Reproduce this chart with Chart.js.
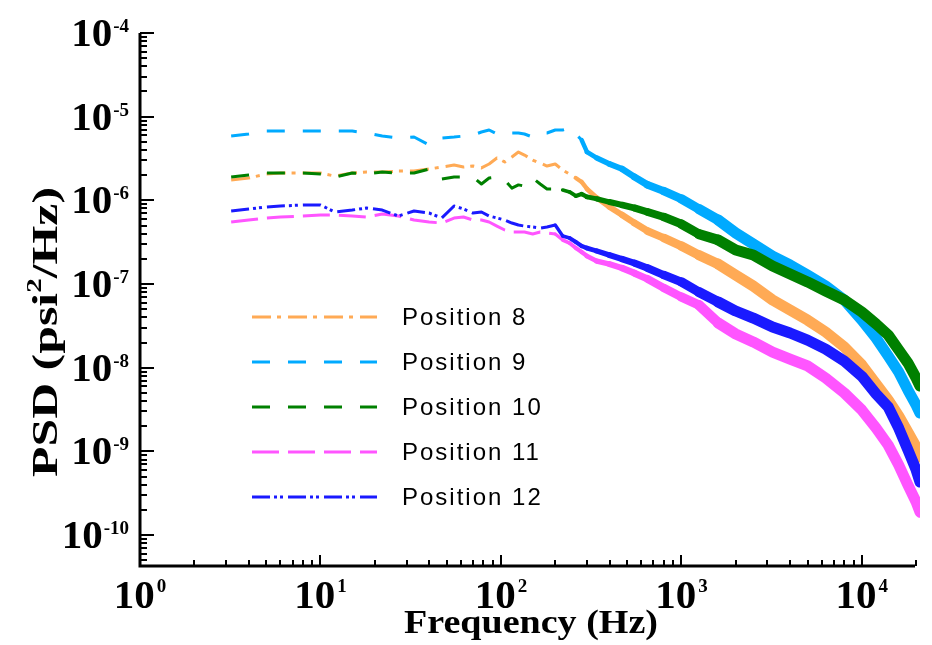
<!DOCTYPE html>
<html>
<head>
<meta charset="utf-8">
<title>PSD</title>
<script src="https://cdn.jsdelivr.net/npm/chart.js@4.4.1/dist/chart.umd.min.js"></script>
<style>
  html, body { margin: 0; padding: 0; background: #fff; }
  #wrap { width: 932px; height: 645px; position: relative; }
</style>
</head>
<body>
<div id="wrap"><canvas id="psdChart"></canvas></div>
<script>
const freq = [3.2, 4, 5, 6, 8, 10, 12, 15, 18, 22, 27, 33, 40, 47, 55, 62, 70, 78, 86, 95,
  105, 115, 125, 135, 150, 165, 180, 200, 220, 240, 260, 280, 300, 340, 400, 470, 550, 650, 800, 1000,
  1250, 1600, 2000, 2500, 3200, 4000, 5000, 6300, 8000, 10000, 12000, 14000, 16000, 18000, 20000, 21000];

// PSD (psi^2/Hz)
const pos8 = [1.75e-6, 1.85e-6, 2.06e-6, 2.12e-6, 2.12e-6, 2.12e-6, 1.95e-6, 2.12e-6, 2.18e-6, 2.18e-6,
  2.24e-6, 2.24e-6, 2.37e-6, 2.50e-6, 2.64e-6, 2.50e-6, 2.57e-6, 2.44e-6, 2.72e-6, 3.21e-6,
  2.87e-6, 3.30e-6, 3.78e-6, 3.48e-6, 3.03e-6, 2.79e-6, 2.57e-6, 2.72e-6, 2.30e-6, 2.06e-6,
  1.85e-6, 1.66e-6, 1.37e-6, 1.07e-6, 8.33e-7, 6.68e-7, 5.36e-7, 4.30e-7, 3.55e-7, 2.85e-7,
  2.22e-7, 1.73e-7, 1.28e-7, 9.47e-8, 6.44e-8, 4.89e-8, 3.71e-8, 2.67e-8, 1.77e-8, 1.08e-8,
  6.38e-9, 4.11e-9, 2.65e-9, 1.70e-9, 1.13e-9, 8.56e-10];
const pos9 = [5.87e-6, 6.21e-6, 6.74e-6, 6.74e-6, 6.74e-6, 6.74e-6, 6.74e-6, 6.74e-6, 6.38e-6, 5.87e-6,
  5.56e-6, 5.71e-6, 4.59e-6, 5.56e-6, 5.71e-6, 5.87e-6, 6.04e-6, 6.56e-6, 6.93e-6, 6.21e-6,
  6.56e-6, 6.38e-6, 6.38e-6, 6.21e-6, 5.71e-6, 6.38e-6, 6.38e-6, 6.93e-6, 6.93e-6, 7.32e-6,
  6.21e-6, 5.26e-6, 3.78e-6, 3.21e-6, 2.72e-6, 2.37e-6, 1.90e-6, 1.53e-6, 1.29e-6, 1.04e-6,
  7.88e-7, 5.82e-7, 4.07e-7, 3.01e-7, 2.16e-7, 1.69e-7, 1.28e-7, 9.47e-8, 6.44e-8, 3.71e-8,
  2.26e-8, 1.38e-8, 8.88e-9, 5.41e-9, 3.58e-9, 2.87e-9];
const pos10 = [1.90e-6, 2.01e-6, 2.12e-6, 2.12e-6, 2.12e-6, 2.06e-6, 1.90e-6, 2.12e-6, 2.06e-6, 2.18e-6,
  2.12e-6, 2.12e-6, 2.37e-6, 1.80e-6, 1.90e-6, 1.90e-6, 1.90e-6, 1.57e-6, 1.85e-6, 1.90e-6,
  1.75e-6, 1.40e-6, 1.53e-6, 1.48e-6, 1.85e-6, 1.57e-6, 1.37e-6, 1.37e-6, 1.33e-6, 1.26e-6,
  1.13e-6, 1.19e-6, 1.10e-6, 1.04e-6, 9.55e-7, 8.80e-7, 8.10e-7, 7.26e-7, 6.32e-7, 5.21e-7,
  3.96e-7, 3.36e-7, 2.55e-7, 2.22e-7, 1.64e-7, 1.32e-7, 1.06e-7, 8.25e-8, 6.44e-8, 4.63e-8,
  3.33e-8, 2.46e-8, 1.63e-8, 1.14e-8, 7.53e-9, 6.04e-9];
const pos11 = [5.51e-7, 5.82e-7, 6.15e-7, 6.32e-7, 6.50e-7, 6.68e-7, 6.68e-7, 6.50e-7, 6.32e-7, 6.87e-7,
  6.50e-7, 5.82e-7, 5.51e-7, 5.36e-7, 6.15e-7, 6.32e-7, 5.82e-7, 5.82e-7, 5.51e-7, 4.93e-7,
  4.42e-7, 4.18e-7, 4.18e-7, 4.18e-7, 3.96e-7, 4.18e-7, 4.07e-7, 3.96e-7, 3.36e-7, 3.09e-7,
  2.69e-7, 2.41e-7, 2.16e-7, 1.88e-7, 1.73e-7, 1.55e-7, 1.35e-7, 1.15e-7, 8.96e-8, 6.99e-8,
  5.61e-8, 3.42e-8, 2.53e-8, 2.03e-8, 1.54e-8, 1.27e-8, 1.05e-8, 7.53e-9, 4.98e-9, 3.12e-9,
  1.90e-9, 1.19e-9, 6.87e-10, 3.96e-10, 2.48e-10, 1.88e-10];
const pos12 = [7.46e-7, 7.88e-7, 8.33e-7, 8.56e-7, 8.80e-7, 8.80e-7, 7.26e-7, 7.66e-7, 8.10e-7, 7.66e-7,
  6.50e-7, 7.46e-7, 7.06e-7, 6.15e-7, 8.56e-7, 7.88e-7, 7.06e-7, 7.26e-7, 6.50e-7, 6.15e-7,
  5.82e-7, 5.36e-7, 5.07e-7, 4.93e-7, 4.80e-7, 4.67e-7, 4.80e-7, 5.07e-7, 3.75e-7, 3.55e-7,
  3.18e-7, 2.85e-7, 2.69e-7, 2.48e-7, 2.22e-7, 1.99e-7, 1.78e-7, 1.55e-7, 1.28e-7, 1.06e-7,
  8.03e-8, 6.10e-8, 4.76e-8, 3.92e-8, 3.06e-8, 2.60e-8, 2.14e-8, 1.67e-8, 1.20e-8, 7.90e-9,
  4.85e-9, 3.39e-9, 1.90e-9, 1.04e-9, 5.99e-10, 4.30e-10];

const seriesNames = ['Position 8', 'Position 9', 'Position 10', 'Position 11', 'Position 12'];
const seriesData = [pos8, pos9, pos10, pos11, pos12];
const seriesColors = ['#ffaa55', '#00aaff', '#008000', '#ff55ff', '#1a1aff'];
const seriesDash = [[19, 6, 4, 7], [18, 18], [18, 18], [27, 9], [18, 4, 3, 3, 3, 5]];
const solidFrom = [260, 280, 220, 200, 200];  // above this the noisy trace looks solid

const xTickExps = [0, 1, 2, 3, 4];
const yTickExps = [-4, -5, -6, -7, -8, -9, -10];

const serif = '"Liberation Serif", "Times New Roman", serif';

function bandWidth(f) {
    if (f < 200) return 3;
    return Math.min(11, 3 + 8 * (Math.log10(f) - 2.3));
}

const datasets = seriesNames.map((name, i) => ({
    label: name,
    data: freq.map((f, k) => ({ x: f, y: seriesData[i][k] })),
    borderColor: seriesColors[i],
    borderWidth: 3,
    borderDash: seriesDash[i],
    borderJoinStyle: 'round',
    pointRadius: 0,
    tension: 0,
    order: 5 - i,
    segment: {
        borderDash: c => c.p0.parsed.x >= solidFrom[i] ? [] : seriesDash[i],
        borderWidth: c => c.p0.parsed.x >= solidFrom[i] ? bandWidth(c.p1.parsed.x) : 3,
        borderCapStyle: c => c.p0.parsed.x >= solidFrom[i] ? 'round' : 'butt'
    }
}));

const axesPlugin = {
    id: 'logAxes',
    afterDraw(chart) {
        const ctx = chart.ctx;
        const xs = chart.scales.x;
        const ys = chart.scales.y;
        const a = chart.chartArea;
        ctx.save();
        ctx.strokeStyle = '#000';
        ctx.fillStyle = '#000';

        // ticks, pointing into the plot
        ctx.lineWidth = 2;
        ctx.beginPath();
        for (let e = -11; e <= -4; e++) {
            for (let m = 1; m <= 9; m++) {
                const v = m * Math.pow(10, e);
                if (v < ys.min * 0.999 || v > ys.max * 1.001) continue;
                const py = Math.round(ys.getPixelForValue(v));
                ctx.moveTo(a.left, py);
                ctx.lineTo(a.left + (m === 1 ? 14 : 7), py);
            }
        }
        for (let e = 0; e <= 4; e++) {
            for (let m = 1; m <= 9; m++) {
                const v = m * Math.pow(10, e);
                if (v > xs.max * 1.001) continue;
                const px = Math.round(xs.getPixelForValue(v));
                ctx.moveTo(px, a.bottom);
                ctx.lineTo(px, a.bottom - (m === 1 ? 11 : 6));
            }
        }
        ctx.stroke();

        ctx.lineWidth = 3;
        ctx.beginPath();
        ctx.moveTo(a.left, a.top);
        ctx.lineTo(a.left, a.bottom);
        ctx.lineTo(a.right - 5, a.bottom);
        ctx.stroke();

        // tick labels 10^n
        const big = 'bold 41px ' + serif;
        const small = 'bold 19px ' + serif;
        ctx.textAlign = 'left';
        ctx.textBaseline = 'alphabetic';
        yTickExps.forEach(e => {
            const py = ys.getPixelForValue(Math.pow(10, e));
            const right = a.left - 11;
            ctx.font = small;
            const ew = ctx.measureText(String(e)).width;
            ctx.fillText(String(e), right - ew, py - 1);
            ctx.font = big;
            const bw = ctx.measureText('10').width;
            ctx.fillText('10', right - ew - bw - 1, py + 13);
        });
        xTickExps.forEach(e => {
            const px = xs.getPixelForValue(Math.pow(10, e));
            ctx.font = big;
            const bw = ctx.measureText('10').width;
            ctx.font = small;
            const ew = ctx.measureText(String(e)).width;
            const x0 = px - (bw + ew + 2) / 2;
            ctx.font = big;
            ctx.fillText('10', x0, a.bottom + 42);
            ctx.font = small;
            ctx.fillText(String(e), x0 + bw + 2, a.bottom + 26);
        });

        // x title
        ctx.font = 'bold 34px ' + serif;
        const xt = 'Frequency (Hz)';
        const xw = ctx.measureText(xt).width;
        ctx.save();
        ctx.translate(531, 633);
        ctx.scale(254 / xw, 1);
        ctx.fillText(xt, -xw / 2, 0);
        ctx.restore();

        // y title with superscript
        const tf = 'bold 36px ' + serif;
        const sf = 'bold 21px ' + serif;
        const p1 = 'PSD (psi', p2 = '2', p3 = '/Hz)';
        ctx.font = tf;
        const w1 = ctx.measureText(p1).width, w3 = ctx.measureText(p3).width;
        ctx.font = sf;
        const w2 = ctx.measureText(p2).width;
        const tw = w1 + w2 + w3;
        ctx.save();
        ctx.translate(57, 332);
        ctx.rotate(-Math.PI / 2);
        ctx.scale(290 / tw, 1);
        ctx.font = tf;
        ctx.fillText(p1, -tw / 2, 0);
        ctx.fillText(p3, -tw / 2 + w1 + w2, 0);
        ctx.font = sf;
        ctx.fillText(p2, -tw / 2 + w1, -16);
        ctx.restore();

        // legend
        seriesNames.forEach((name, i) => {
            const y = 317 + i * 45;
            ctx.strokeStyle = seriesColors[i];
            ctx.lineWidth = 3;
            ctx.setLineDash(seriesDash[i]);
            ctx.beginPath();
            ctx.moveTo(252, y);
            ctx.lineTo(377, y);
            ctx.stroke();
            ctx.setLineDash([]);
            ctx.font = '24px "Liberation Sans", Arial, sans-serif';
            ctx.letterSpacing = '2px';
            ctx.textBaseline = 'middle';
            ctx.fillStyle = '#000';
            ctx.fillText(name, 402, y + 1);
            ctx.letterSpacing = '0px';
            ctx.textBaseline = 'alphabetic';
        });
        ctx.restore();
    }
};

new Chart(document.getElementById('psdChart'), {
    type: 'line',
    data: { datasets: datasets },
    options: {
        responsive: true,
        maintainAspectRatio: false,
        devicePixelRatio: 1,
        animation: false,
        events: [],
        layout: { padding: { left: 140, right: 12, top: 33, bottom: 79 } },
        plugins: { legend: { display: false }, tooltip: { enabled: false } },
        scales: {
            x: { type: 'logarithmic', min: 1, max: 21000, bounds: 'data', display: false },
            y: { type: 'logarithmic', min: 4.27e-11, max: 1e-4, bounds: 'data', display: false }
        }
    },
    plugins: [axesPlugin]
});
</script>
</body>
</html>
